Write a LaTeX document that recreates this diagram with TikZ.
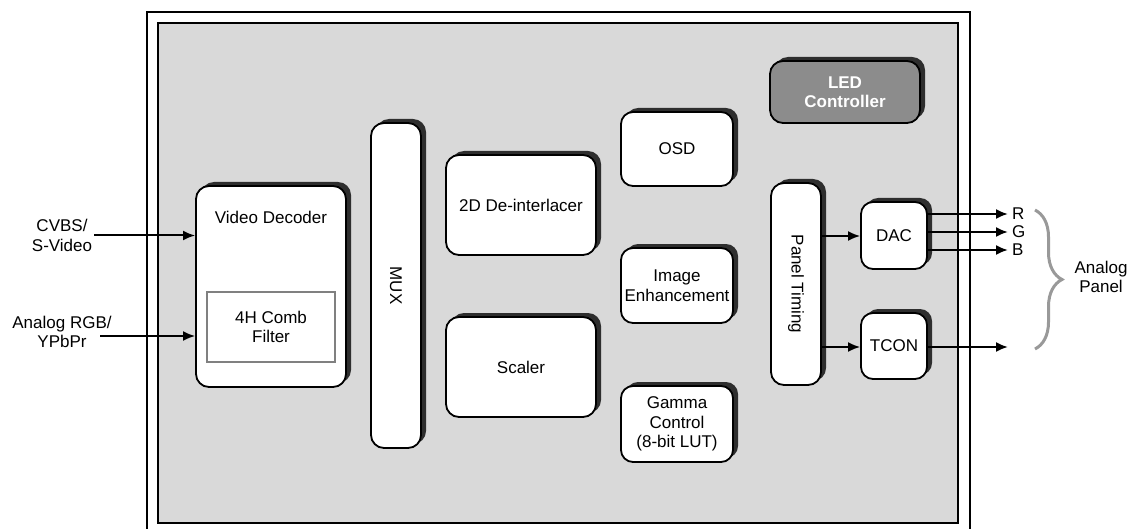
\documentclass[tikz,border=0pt]{standalone}
\usepackage{fontspec}
\setmainfont{Liberation Sans}
\usetikzlibrary{shadows,arrows.meta,decorations.pathreplacing}
\definecolor{panelgray}{HTML}{D9D9D9}
\definecolor{ledgray}{HTML}{8C8C8C}
\definecolor{shadowgray}{HTML}{2E2E2E}
\definecolor{bracegray}{HTML}{999999}
\definecolor{combgray}{HTML}{808080}
\begin{document}
\begin{tikzpicture}[x=1pt,y=-1pt,
  font=\fontsize{17}{19.5}\selectfont,
  blk/.style={draw=black, line width=1.8pt, fill=white, rounded corners=13pt,
    inner sep=0pt, align=center,
    drop shadow={shadow xshift=5pt, shadow yshift=4pt, fill=shadowgray, opacity=1}},
  arr/.style={line width=2pt, -{Latex[length=12pt,width=10pt]}},
  lbl/.style={align=center, inner sep=2pt}]
\useasboundingbox (0,0) rectangle (1131,529);
% frames
\draw[line width=1.8pt] (147,12) rectangle (970,545);
\draw[line width=1.8pt, fill=panelgray] (158,23) rectangle (958,523);
% blocks
\node[blk, minimum width=150pt, minimum height=201pt] (vd) at (271,286.5) {};
\node[lbl] (vdt) at (271,217) {Video Decoder};
\node[draw=combgray, line width=1.5pt, minimum width=128pt, minimum height=70pt, align=center] (comb) at (271,327) {4H Comb\\Filter};
\node[blk, minimum width=50pt, minimum height=325pt] (mux) at (396,285.5) {\rotatebox{-90}{MUX}};
\node[blk, minimum width=150pt, minimum height=100pt] (deint) at (521,205) {2D De-interlacer};
\node[blk, minimum width=150pt, minimum height=100pt] (scaler) at (521,367) {Scaler};
\node[blk, rounded corners=12pt, minimum width=112pt, minimum height=74pt] (osd) at (677,149) {OSD};
\node[blk, rounded corners=12pt, minimum width=112pt, minimum height=75pt] (ie) at (677,285.5) {Image\\Enhancement};
\node[blk, rounded corners=12pt, minimum width=112pt, minimum height=76pt] (gamma) at (677,424) {Gamma\\Control\\(8-bit LUT)};
\node[blk, fill=ledgray, text=white, font=\fontsize{17}{19.5}\selectfont\bfseries, minimum width=150pt, minimum height=62pt] (led) at (845,92) {LED\\Controller};
\node[blk, minimum width=50pt, minimum height=202pt] (pt) at (796,284) {\rotatebox{-90}{Panel Timing}};
\node[blk, rounded corners=12pt, minimum width=66pt, minimum height=67pt] (dac) at (894,235.5) {DAC};
\node[blk, rounded corners=12pt, minimum width=66pt, minimum height=66pt] (tcon) at (894,346) {TCON};
% inputs
\node[lbl] (cvbs) at (62,235.5) {CVBS/\\S-Video};
\node[lbl] (argb) at (62,332) {Analog RGB/\\YPbPr};
\coordinate (argbout) at (100,336);
\draw[arr] (cvbs.east) -- (vd.west |- cvbs.east);
\draw[arr] (argbout) -- (vd.west |- argbout);
% internal
\coordinate (dacin) at (830,236);
\coordinate (tconin) at (830,347);
\draw[arr] (pt.east |- dacin) -- (dac.west |- dacin);
\draw[arr] (pt.east |- tconin) -- (tcon.west |- tconin);
% outputs
\coordinate (rend) at (1008,214);
\coordinate (gend) at (1008,232);
\coordinate (bend) at (1008,250);
\coordinate (tend) at (1008,347);
\draw[arr] (dac.east |- rend) -- (rend);
\draw[arr] (dac.east |- gend) -- (gend);
\draw[arr] (dac.east |- bend) -- (bend);
\draw[arr] (tcon.east |- tend) -- (tend);
\node[anchor=west, inner sep=4pt] (rl) at (rend) {R};
\node[anchor=west, inner sep=4pt] (gl) at (gend) {G};
\node[anchor=west, inner sep=4pt] (bl) at (bend) {B};
% brace
\coordinate (btop) at (1035,210);
\coordinate (bbot) at (1035,349);
\draw[bracegray, line width=3pt, decorate, decoration={brace, amplitude=27pt}] (btop) -- (bbot);
\node[lbl] (panel) at (1101,277) {Analog\\Panel};
\end{tikzpicture}
\end{document}
